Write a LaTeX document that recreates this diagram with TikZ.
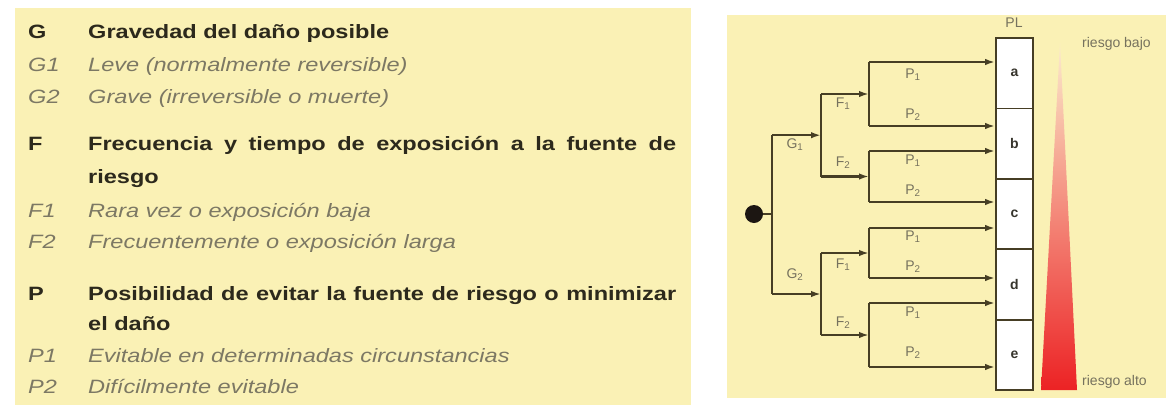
\documentclass[tikz,border=0pt]{standalone}
\usepackage{fontspec}
\setmainfont{Liberation Sans}
\newfontfamily\widefont{Liberation Sans}[FakeStretch=1.22]
\usetikzlibrary{arrows.meta}
\definecolor{paper}{RGB}{250,241,181}
\definecolor{headcol}{RGB}{44,41,28}
\definecolor{itemcol}{RGB}{124,120,100}
\definecolor{lblcol}{RGB}{118,114,94}
\definecolor{linecol}{RGB}{70,62,36}
\definecolor{cellcol}{RGB}{55,53,45}
\definecolor{dotcol}{RGB}{28,22,18}
\definecolor{riskhi}{RGB}{236,34,36}
\definecolor{risklo}{RGB}{251,236,205}
\tikzset{
  wire/.style={draw=linecol,line width=2.3pt},
  flow/.style={wire,-{Latex[length=10pt,width=6.5pt]}},
  head/.style={anchor=base west,inner sep=0pt,text=headcol,font=\widefont\fontsize{19.3}{22}\selectfont\bfseries},
  item/.style={anchor=base west,inner sep=0pt,text=itemcol,font=\widefont\fontsize{19.3}{22}\selectfont\itshape},
  lbl/.style={inner sep=0pt,text=lblcol,font=\fontsize{14}{16}\selectfont},
  cell/.style={draw=linecol,line width=1.8pt,fill=white,minimum width=37pt,minimum height=70.4pt,inner sep=0pt,text=cellcol,font=\fontsize{14}{16}\selectfont\bfseries}
}
\begin{document}
\begin{tikzpicture}[x=1pt,y=-1pt]
\useasboundingbox (0,0) rectangle (1175,410);
\fill[paper] (15,8) rectangle (691,405);
\fill[paper] (727,15) rectangle (1166,398);
% left panel: key to the parameters
\node[head] (gkey) at (28,38) {G};
\node[head] (ghead) at (88,38) {Gravedad del daño posible};
\node[item] (g1key) at (28,71) {G1};
\node[item] (g1txt) at (88,71) {Leve (normalmente reversible)};
\node[item] (g2key) at (28,103.5) {G2};
\node[item] (g2txt) at (88,103.5) {Grave (irreversible o muerte)};
\node[head] (fkey) at (28,150) {F};
\node[head] (fhead) at (88,150) {\makebox[588pt][s]{Frecuencia y tiempo de exposición a la fuente de}};
\node[head] (fhead2) at (88,183) {riesgo};
\node[item] (f1key) at (28,217) {F1};
\node[item] (f1txt) at (88,217) {Rara vez o exposición baja};
\node[item] (f2key) at (28,248) {F2};
\node[item] (f2txt) at (88,248) {Frecuentemente o exposición larga};
\node[head] (pkey) at (28,300) {P};
\node[head] (phead) at (88,300) {\makebox[588pt][s]{Posibilidad de evitar la fuente de riesgo o minimizar}};
\node[head] (phead2) at (88,330) {el daño};
\node[item] (p1key) at (28,362) {P1};
\node[item] (p1txt) at (88,362) {Evitable en determinadas circunstancias};
\node[item] (p2key) at (28,393) {P2};
\node[item] (p2txt) at (88,393) {Difícilmente evitable};
% right panel: risk graph
\node[lbl] (pl) at (1014,23) {PL};
\node[cell] (ca) at (1014.5,73.2) {a};
\node[cell] (cb) at (1014.5,143.6) {b};
\node[cell] (cc) at (1014.5,214) {c};
\node[cell] (cd) at (1014.5,284.4) {d};
\node[cell] (ce) at (1014.5,354.8) {e};
\node[circle,fill=dotcol,minimum size=18pt,inner sep=0pt] (root) at (754,214) {};
\coordinate (g) at (772,214);
\coordinate (gtop) at (772,135.2);
\coordinate (gbot) at (772,294);
\coordinate (g1) at (821,135.2);
\coordinate (g2) at (821,294);
\coordinate (g1top) at (821,94);
\coordinate (g1bot) at (821,176.5);
\coordinate (g2top) at (821,253);
\coordinate (g2bot) at (821,335);
\coordinate (f1) at (869,94);
\coordinate (f2) at (869,176.5);
\coordinate (f3) at (869,253);
\coordinate (f4) at (869,335);
\coordinate (f1top) at (869,62);
\coordinate (f1bot) at (869,126);
\coordinate (f2top) at (869,151);
\coordinate (f2bot) at (869,202);
\coordinate (f3top) at (869,228);
\coordinate (f3bot) at (869,278);
\coordinate (f4top) at (869,303);
\coordinate (f4bot) at (869,367);
\draw[wire] (root) -- (g);
\draw[wire] (gtop) -- (gbot);
\draw[flow] (gtop) -- (g1);
\draw[flow] (gbot) -- (g2);
\draw[wire] (g1top) -- (g1bot);
\draw[wire] (g2top) -- (g2bot);
\draw[flow] (g1top) -- (f1);
\draw[flow] (g1bot) -- (f2);
\draw[flow] (g2top) -- (f3);
\draw[flow] (g2bot) -- (f4);
\draw[wire] (f1top) -- (f1bot);
\draw[wire] (f2top) -- (f2bot);
\draw[wire] (f3top) -- (f3bot);
\draw[wire] (f4top) -- (f4bot);
\draw[flow] (f1top) -- (f1top -| ca.west);
\draw[flow] (f1bot) -- (f1bot -| cb.west);
\draw[flow] (f2top) -- (f2top -| cb.west);
\draw[flow] (f2bot) -- (f2bot -| cc.west);
\draw[flow] (f3top) -- (f3top -| cc.west);
\draw[flow] (f3bot) -- (f3bot -| cd.west);
\draw[flow] (f4top) -- (f4top -| cd.west);
\draw[flow] (f4bot) -- (f4bot -| ce.west);
\node[lbl] (lg1) at (795,145) {G\textsubscript{1}};
\node[lbl] (lg2) at (795,275) {G\textsubscript{2}};
\node[lbl] (lf1) at (843,104) {F\textsubscript{1}};
\node[lbl] (lf2) at (843,163) {F\textsubscript{2}};
\node[lbl] (lf3) at (843,265) {F\textsubscript{1}};
\node[lbl] (lf4) at (843,323) {F\textsubscript{2}};
\node[lbl] (lp1) at (913,75) {P\textsubscript{1}};
\node[lbl] (lp2) at (913,115) {P\textsubscript{2}};
\node[lbl] (lp3) at (913,161) {P\textsubscript{1}};
\node[lbl] (lp4) at (913,191) {P\textsubscript{2}};
\node[lbl] (lp5) at (913,237) {P\textsubscript{1}};
\node[lbl] (lp6) at (913,267) {P\textsubscript{2}};
\node[lbl] (lp7) at (913,313) {P\textsubscript{1}};
\node[lbl] (lp8) at (913,353) {P\textsubscript{2}};
% risk wedge
\shade[top color=risklo,bottom color=riskhi] (1060,43) -- (1077,390) -- (1041,390) -- cycle;
\node[lbl,anchor=west] (bajo) at (1082,44) {riesgo bajo};
\node[lbl,anchor=west] (alto) at (1082,382) {riesgo alto};
\end{tikzpicture}
\end{document}
